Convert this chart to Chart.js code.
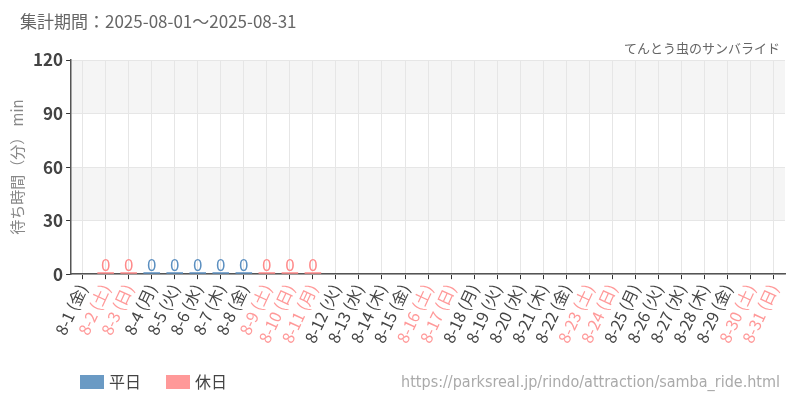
<!DOCTYPE html>
<html>
<head>
<meta charset="utf-8">
<script src="https://cdn.jsdelivr.net/npm/chart.js@4"></script>
<style>
  body { margin: 0; background: #fff; }
  #wrap { width: 800px; height: 400px; position: relative; }
</style>
</head>
<body>
<div id="wrap"><canvas id="waitChart"></canvas></div>
<script>
// 8月の日付と曜日
const days = ['8-1','8-2','8-3','8-4','8-5','8-6','8-7','8-8','8-9','8-10','8-11','8-12','8-13','8-14','8-15','8-16',
    '8-17','8-18','8-19','8-20','8-21','8-22','8-23','8-24','8-25','8-26','8-27','8-28','8-29','8-30','8-31'];
const weekdays = ['金','土','日','月','火','水','木','金','土','日','月','火','水','木','金','土',
    '日','月','火','水','木','金','土','日','月','火','水','木','金','土','日'];
// 休日フラグ (8-11 は山の日)
const holidays = [0,1,1,0,0,0,0,0,1,1,1,0,0,0,0,1,1,0,0,0,0,0,1,1,0,0,0,0,0,1,1];
// 待ち時間 (分) / データなしは null
const weekdayWait = [null,null,null,0,0,0,0,0,null,null,null,null,null,null,null,null,
    null,null,null,null,null,null,null,null,null,null,null,null,null,null,null];
const holidayWait = [null,0,0,null,null,null,null,null,0,0,0,null,null,null,null,null,
    null,null,null,null,null,null,null,null,null,null,null,null,null,null,null];
const yTicks = [0, 30, 60, 90, 120];

const BLUE = '#6a9ac4';
const PINK = '#ff9999';
const FONT = '"Noto Sans CJK JP", "Noto Sans", sans-serif';

const labels = days.map((d, i) => `${d} (${weekdays[i]})`);

// 背景の縞模様
const bandPlugin = {
    id: 'bands',
    beforeDraw(chart) {
        const { ctx, chartArea, scales } = chart;
        const y = scales.y;
        ctx.save();
        ctx.fillStyle = '#f5f5f5';
        [[90, 120], [30, 60]].forEach(b => {
            const top = y.getPixelForValue(b[1]);
            const bottom = y.getPixelForValue(b[0]);
            ctx.fillRect(chartArea.left, top, chartArea.right - chartArea.left, bottom - top);
        });
        ctx.restore();
    }
};

// 棒の上の数値ラベル
const valueLabelPlugin = {
    id: 'valueLabels',
    afterDatasetsDraw(chart) {
        const ctx = chart.ctx;
        ctx.save();
        ctx.font = '17px ' + FONT;
        ctx.textAlign = 'center';
        ctx.textBaseline = 'bottom';
        chart.data.datasets.forEach((ds, di) => {
            const meta = chart.getDatasetMeta(di);
            meta.data.forEach((bar, i) => {
                if (ds.data[i] === null) return;
                ctx.fillStyle = ds.borderColor;
                ctx.fillText(ds.data[i], bar.x, bar.y + 1);
            });
        });
        ctx.restore();
    }
};

// タイトル・凡例・URL は手書き
const textPlugin = {
    id: 'texts',
    afterDraw(chart) {
        const ctx = chart.ctx;
        ctx.save();
        ctx.textBaseline = 'middle';

        ctx.font = '17px ' + FONT;
        ctx.fillStyle = '#666';
        ctx.textAlign = 'left';
        ctx.fillText('集計期間：2025-08-01～2025-08-31', 20, 22);

        ctx.font = '13px ' + FONT;
        ctx.textAlign = 'right';
        ctx.fillText('てんとう虫のサンバライド', 780, 48);

        // 凡例
        ctx.textAlign = 'left';
        ctx.font = '16px ' + FONT;
        ctx.fillStyle = BLUE;
        ctx.fillRect(80, 375, 24, 14);
        ctx.fillStyle = '#444';
        ctx.fillText('平日', 109, 382);
        ctx.fillStyle = PINK;
        ctx.fillRect(166, 375, 24, 14);
        ctx.fillStyle = '#444';
        ctx.fillText('休日', 195, 382);

        ctx.font = '16px "Liberation Sans Narrow", "DejaVu Sans Condensed", sans-serif';
        ctx.fillStyle = '#aaaaaa';
        ctx.textAlign = 'right';
        ctx.fillText('https://parksreal.jp/rindo/attraction/samba_ride.html', 780, 383);
        ctx.restore();
    }
};

const ctx = document.getElementById('waitChart').getContext('2d');
new Chart(ctx, {
    type: 'bar',
    data: {
        labels: labels,
        datasets: [{
            label: '平日',
            data: weekdayWait,
            backgroundColor: '#5b8fc0',
            borderColor: '#5b8fc0',
            minBarLength: 2,
            grouped: false
        }, {
            label: '休日',
            data: holidayWait,
            backgroundColor: '#ff8a8a',
            borderColor: '#ff8a8a',
            minBarLength: 2,
            grouped: false
        }]
    },
    options: {
        responsive: true,
        maintainAspectRatio: false,
        animation: false,
        layout: { padding: { left: 8, right: 15, top: 60, bottom: 52 } },
        plugins: {
            legend: { display: false },
            tooltip: { enabled: false }
        },
        scales: {
            x: {
                offset: true,
                grid: { offset: false, color: '#e6e6e6', tickColor: '#333', tickLength: 5 },
                border: { color: '#555', width: 1.5 },
                ticks: {
                    autoSkip: false,
                    minRotation: 65,
                    maxRotation: 65,
                    padding: 2,
                    font: { family: FONT, size: 16 },
                    color: c => holidays[c.index] ? PINK : '#444'
                }
            },
            y: {
                min: 0,
                max: 120,
                afterBuildTicks: axis => { axis.ticks = yTicks.map(v => ({ value: v })); },
                grid: { color: '#e6e6e6', tickColor: '#333', tickLength: 5 },
                border: { color: '#555', width: 1.5 },
                ticks: {
                    padding: 3,
                    color: '#444',
                    font: { family: FONT, size: 17, weight: 'bold' }
                },
                title: {
                    display: true,
                    text: '待ち時間（分） min',
                    color: '#888',
                    font: { family: FONT, size: 15 },
                    padding: { top: 0, bottom: 4 }
                }
            }
        }
    },
    plugins: [bandPlugin, valueLabelPlugin, textPlugin]
});
</script>
</body>
</html>
